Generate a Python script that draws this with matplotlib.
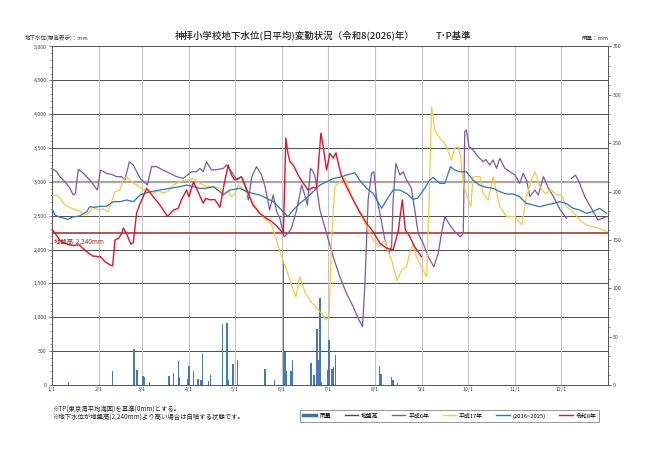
import matplotlib
matplotlib.use("Agg")
import matplotlib.pyplot as plt
import numpy as np
from matplotlib.ticker import MultipleLocator
from matplotlib.lines import Line2D

plt.rcParams['font.family'] = ['Noto Sans CJK JP', 'DejaVu Sans']

# ---------------- data ----------------
month_starts = [0, 31, 59, 90, 120, 151, 181, 212, 243, 273, 304, 334]
month_labels = ["1/1", "2/1", "3/1", "4/1", "5/1", "6/1", "7/1", "8/1", "9/1", "10/1", "11/1", "12/1"]

rain_days = [11, 40, 54, 56, 60, 61, 64, 77, 80, 83, 84, 89, 90, 93, 96, 98, 99, 103, 104,
             112, 115, 116, 119, 122, 140, 146, 152, 153, 154, 157, 158, 170, 172, 174, 175,
             176, 177, 181, 182, 184, 185, 186, 215, 216, 223, 224, 227]
rain_mm = [3, 15, 37.5, 15.5, 9, 8.5, 3, 9, 12, 25, 8, 6, 20, 14, 6, 5, 32, 4, 10,
           63, 64, 5, 22, 26, 17, 5, 129, 34, 15, 15, 26, 23, 10, 58, 26,
           90, 3, 16, 47, 17, 19, 31, 20, 11, 8, 5, 2]

ground_level = 2240

h6_days = [0, 3.3, 5.4, 8.7, 12, 14.2, 15.5, 17.5, 20.8, 25, 30, 32, 36, 39.3, 42.6, 46, 48, 51,
           53.5, 58, 62.8, 65.5, 68.9, 73, 77.6, 82, 86.3, 89.6, 91.8, 95, 97.2, 99.4, 101.6,
           104.9, 108.2, 112.6, 114.8, 118, 121.3, 124.5, 127.8, 129, 131.3, 134.4, 137.7, 140,
           143, 145.3, 147.6, 149.7, 152.4, 155, 157.2, 160.7, 164, 166, 167.8, 169.8, 171.5,
           172.6, 176, 180.3, 184.7, 189, 193.4, 197.8, 201, 203.9, 205.4, 207.6, 209.8, 211.4,
           213, 215.3, 218.6, 221.2, 223, 224, 225.8, 228.4, 230.6, 232.8, 236, 238.2, 240.4,
           243.7, 247, 250.7, 253.6, 255.7, 257.9, 261.2, 264.4, 268.2, 270, 271, 272, 273.8,
           276.4, 279.7, 283, 284.8, 287.4, 289.6, 291.8, 294, 297.3, 300.6, 303.9, 307, 309.3,
           311.5, 313.7, 317, 319.2, 322.6, 325.9, 329.2, 333.6, 337.7, 339.5,
           341, 343.6, 346.4, 349.7, 354, 358.4, 364]
h6_vals = [3200, 3151, 3077, 3003, 2905, 2806, 2830, 3185, 3127, 3028, 2880, 3175, 3127, 3110,
           3077, 3077, 3028, 3298, 3250, 3052, 2954, 3225, 3225, 3175, 3127, 3077, 3052, 3110,
           3151, 3151, 3200, 3151, 3298, 3175, 3180, 3200, 3250, 3151, 3028, 3077, 2880, 2733,
           3077, 3225, 3101, 2929, 2585, 2806, 2560, 2462, 2190, 2240, 2314, 2585, 2954, 2806,
           2659, 3200, 3150, 3101, 2585, 2240, 1895, 1600, 1354, 1157, 985, 862, 1452, 2733,
           3127, 3150, 2782, 2536, 2142, 1945, 2043, 2733, 3274, 3101, 3150, 3028, 2905, 2585,
           2240, 2093, 1895, 1747, 1945, 2240, 2487, 2363, 2265, 2190, 2240, 3742, 3767, 3520,
           3472, 3373, 3298, 3330, 3250, 3323, 3200, 3348, 3200, 3151, 3101, 2979, 3127, 3028,
           2782, 2880, 2806, 3077, 2905, 2782, 2585, 2462, np.nan,
           3052, 3101, 2979, 2782, 2610, 2437, 2487]

h17_days = [0, 3.3, 5.4, 8.7, 13, 17.5, 21.8, 24, 27.3, 30.6, 33.8, 37, 39.3, 41.5, 44.8, 47, 49,
            52.5, 55.7, 59, 62.3, 66.6, 70, 73, 76.5, 80, 84, 88.5, 92.8, 97.2, 101.6, 106, 110.4,
            112.6, 115.8, 118, 120.3, 122.4, 125.6, 129, 132.2, 136.6, 141, 144.3, 147.5, 150.8,
            154.1, 157.4, 160.2, 162.8, 166, 169.3, 173.8, 177, 179.9, 182, 183.6, 185.8, 189,
            192.2, 194.5, 197.8, 202.2, 206.6, 210.9, 215.3, 218.6, 220.8, 223, 226.5, 229.5,
            232.8, 235, 237.1, 239.2, 242.6, 245.9, 247.6, 249.2, 251.3, 254.6, 257.9, 262.3,
            264.4, 266.8, 268.2, 270, 273.2, 275, 276.4, 281, 283, 286.3, 289.6, 294, 298.4,
            303.9, 308.4, 311.5, 314.8, 317, 320.3, 323.6, 328, 331.3, 334.4, 337.7, 342, 346.4,
            350.8, 355, 359.5, 364]
h17_vals = [2792, 2806, 2757, 2659, 2610, 2575, 2511, 2530, 2624, 2585, 2600, 2560, 2708, 2855,
            2880, 3028, 3077, 3003, 2954, 2905, 2855, 2831, 2870, 2840, 2860, 2954, 3003, 3028,
            3052, 2979, 2929, 2929, 2905, 2831, 2870, 2782, 2830, 2954, 2905, 2806, 2684, 2536,
            2437, 2363, 2142, 1895, 1699, 1477, 1304, 1600, 1378, 1255, 1133, 1059, 960, 1009,
            2142, 2929, 3003, 3052, 2929, 2733, 2536, 2339, 2142, 2043, 2142, 1969, 1846, 1540,
            1699, 1747, 1969, 2093, 1895, 1747, 1600, 2733, 4110, 3767, 3644, 3570, 3323, 3496,
            3520, 3373, 2979, 2733, 2640, 3077, 3077, 2831, 2733, 3077, 2634, 2487, 2487, 2363,
            2782, 3028, 3151, 2929, 2831, 2880, 2806, 2806, 2634, 2560, 2437, 2363, 2339, 2314,
            2265]

avg_days = [0, 2, 5.4, 11, 13, 18.6, 23, 25, 28, 31.7, 36, 40.4, 45, 49, 53.6, 58, 64.5, 71,
            77.5, 84, 88.5, 93, 97, 101, 106, 110.4, 112.6, 117, 123.5, 128, 132, 136.6, 141,
            145.5, 149.7, 155, 158.5, 162.8, 167, 171.5, 176, 180.3, 185, 189, 193.4, 198.9,
            202, 206.6, 210.9, 216.4, 219.7, 224, 228.4, 232.8, 237, 240, 243.7, 248, 250.2,
            254.6, 257.9, 261.6, 264.4, 267.7, 272, 276.3, 280.5, 285, 289.6, 294, 298.4, 302.7,
            307, 311.4, 315.8, 320, 324.6, 329, 333.3, 337.7, 342, 346.4, 350.8, 355, 359.5, 364]
avg_vals = [2624, 2511, 2477, 2447, 2477, 2500, 2560, 2634, 2625, 2640, 2640, 2708, 2708, 2733,
            2708, 2806, 2855, 2880, 2905, 2929, 2954, 2930, 2905, 2905, 2930, 2855, 2806, 2880,
            2905, 2855, 2830, 2806, 2757, 2708, 2610, 2487, 2585, 2684, 2757, 2855, 2954, 3003,
            3052, 3067, 3101, 3136, 3028, 2905, 2831, 2610, 2733, 2880, 2880, 2830, 2742, 2760,
            2870, 3028, 3067, 2979, 2979, 3225, 3175, 3150, 3150, 3028, 2954, 2920, 2905, 2855,
            2821, 2821, 2782, 2684, 2659, 2634, 2659, 2680, 2708, 2680, 2610, 2585, 2536, 2560,
            2610, 2536]

r8_days = [0, 3, 6, 10, 14, 18, 23, 27, 32, 35, 39, 40, 41.5, 44, 46, 47, 49, 52, 53.5, 55.7,
           58, 60, 62.3, 67, 71, 76, 80, 83, 85, 88.5, 90, 93, 96, 99.4, 101, 104, 107, 110.4,
           113, 115.8, 118, 120, 124.5, 126, 129, 132, 136.6, 141, 144.3, 147.6, 150.8, 152,
           153.6, 155, 156.3, 158.5, 161.7, 165, 168.3, 171.6, 173.8, 176.6, 178, 180.3, 182.5,
           184.7, 186.5, 188, 190, 193.4, 197.8, 202, 206.5, 210.9, 215.3, 219.7, 224, 227.3,
           230, 232, 235, 238, 242.6]
r8_vals = [2310, 2215, 2120, 2080, 2060, 2070, 1970, 1905, 1895, 1820, 1765, 1760, 2140, 2170,
           2240, 2320, 2240, 2080, 2100, 2540, 2680, 2780, 2905, 2770, 2660, 2490, 2585, 2610,
           2730, 2880, 2780, 3000, 2855, 2685, 2755, 2735, 2740, 2625, 2950, 3250, 3100, 3030,
           3075, 3000, 2830, 2660, 2535, 2460, 2415, 2350, 2265, 2240, 3645, 3420, 3300, 3250,
           3100, 2980, 2880, 2920, 2905, 3720, 3545, 3175, 3420, 3350, 3430, 3275, 3100, 2930,
           2735, 2560, 2390, 2265, 2095, 2020, 2000, 2265, 2735, 2290, 2190, 2045, 1895]

# ---------------- figure ----------------
fig = plt.figure(figsize=(6.5, 4.59), dpi=100)
ax = fig.add_axes([0.0795, 0.1612, 0.856, 0.7375])
ax2 = ax.twinx()

# rain on secondary axis (drawn beneath lines)
ax.set_zorder(ax2.get_zorder() + 1)
ax.patch.set_visible(False)
ax2.bar(rain_days, rain_mm, width=0.9, color='#4a78b4', edgecolor='none', zorder=2)
ax2.set_ylim(0, 350)
ax2.yaxis.set_major_locator(MultipleLocator(50))
ax2.yaxis.set_minor_locator(MultipleLocator(10))

# grid
for v in range(500, 5001, 500):
    if v == 3000:
        ax2.axhline(v * 350 / 5000, color='#a6a6a6', lw=1.6, zorder=1)
    else:
        ax2.axhline(v * 350 / 5000, color='#4d4d4d', lw=0.7, zorder=1)
for m in month_starts[1:]:
    ax2.axvline(m, color='#c4c4c4', lw=0.8, zorder=1)

c_ground = '#a8261c'
c_h6 = '#7a5aa6'
c_h17 = '#f5c94a'
c_avg = '#2a78b8'
c_r8 = '#e3142a'

ax.axhline(ground_level, color=c_ground, lw=1.1, zorder=3)
ax.plot(h6_days, h6_vals, color=c_h6, lw=0.9, zorder=4)
ax.plot(h17_days, h17_vals, color=c_h17, lw=0.9, zorder=4)
ax.plot(avg_days, avg_vals, color=c_avg, lw=0.9, zorder=5)
ax.plot(r8_days, r8_vals, color=c_r8, lw=1.0, zorder=6)

ax.text(1.5, ground_level - 60, "地盤高  2,240mm", color=c_ground, fontsize=4.6,
        va='top', ha='left', zorder=7)

ax.set_xlim(0, 365)
ax.set_ylim(0, 5000)
ax.yaxis.set_major_locator(MultipleLocator(500))
ax.yaxis.set_minor_locator(MultipleLocator(100))
ax.set_yticks(range(0, 5001, 500))
ax.set_yticklabels([f"{v:,}" for v in range(0, 5001, 500)])
ax.set_xticks(month_starts)
ax.set_xticklabels(month_labels)

for a in (ax, ax2):
    a.tick_params(axis='both', which='major', labelsize=3.8, length=2, width=0.5,
                  colors='#404040', pad=1.5)
    a.tick_params(axis='both', which='minor', length=1.2, width=0.4, colors='#404040')
    for s in a.spines.values():
        s.set_color('#595959')
        s.set_linewidth(0.7)
ax.tick_params(axis='x', length=0)
ax2.tick_params(axis='x', length=0)

# texts
fig.text(0.454, 0.921, "神拝小学校地下水位(日平均)変動状況（令和8(2026)年）", ha='center',
         va='center', fontsize=6.8, color='#222222', fontweight='medium')
fig.text(0.697, 0.921, "T･P基準", ha='center', va='center', fontsize=6.8, color='#222222',
         fontweight='medium')
fig.text(0.038, 0.918, "地下水位(標高表示)：mm", ha='left', va='center', fontsize=4.0,
         color='#333333')
fig.text(0.936, 0.916, "雨量：mm", ha='right', va='center', fontsize=4.0, color='#333333')
fig.text(0.080, 0.108, "※TP(東京湾平均海面)を基準(0mm)とする。", ha='left', va='center',
         fontsize=4.6, color='#222222')
fig.text(0.080, 0.090, "※地下水位が地盤高(2,240mm)より高い場合は自噴する状態です。", ha='left',
         va='center', fontsize=4.6, color='#222222')

# legend
handles = [Line2D([0], [0], color='#3f6fa8', lw=2.5),
           Line2D([0], [0], color=c_ground, lw=1),
           Line2D([0], [0], color=c_h6, lw=1),
           Line2D([0], [0], color=c_h17, lw=1),
           Line2D([0], [0], color=c_avg, lw=1),
           Line2D([0], [0], color=c_r8, lw=1)]
labels = ["雨量", "地盤高", "平成6年", "平成17年", "(2016~2025)", "令和8年"]
leg = fig.legend(handles, labels, ncol=6, loc='center', bbox_to_anchor=(0.692, 0.094),
                 fontsize=4.2, frameon=True, fancybox=False, edgecolor='#808080',
                 handlelength=2.3, columnspacing=2.3, handletextpad=0.5, borderpad=0.5)
leg.get_frame().set_linewidth(0.7)

fig.savefig("out.png", dpi=100)
